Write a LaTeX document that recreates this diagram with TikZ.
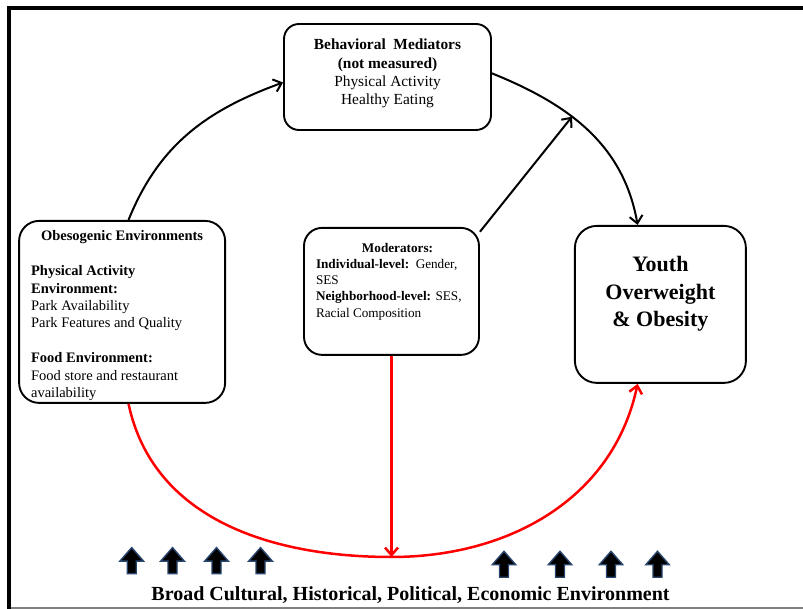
\documentclass[tikz,border=0pt]{standalone}
\usepackage{fontspec}
\setmainfont{Liberation Serif}
\usetikzlibrary{arrows.meta,positioning}
\definecolor{arrowblue}{RGB}{40,70,110}

\begin{document}
\begin{tikzpicture}[
  x=1pt, y=1pt,
  envbox/.style={rectangle, rounded corners=18pt, draw, line width=1.9pt, inner sep=0pt, fill=white},
  arrow/.style={-{Straight Barb[length=7.5pt,width=13pt]}, line width=2pt},
  redarrow/.style={-{Straight Barb[length=7.5pt,width=13pt]}, line width=2.5pt, red},
  uparrow/.pic={\filldraw[fill=black, draw=arrowblue, line width=1.4pt] (-4.5,0) -- (4.5,0) -- (4.5,12.5) -- (11.8,12.5) -- (0,26) -- (-11.8,12.5) -- (-4.5,12.5) -- cycle;}
]
  \path[use as bounding box, fill=white] (0,0) rectangle (803,609);
  % frame
  \draw[line width=4.2pt] (9.3,0) -- (9.3,601.2) -- (803,601.2);
  \draw[gray, line width=1.5pt] (11,0.8) -- (803,0.8);

  \node[envbox, rounded corners=15pt] (beh) at (387.5,532) {\begin{minipage}[t][106pt][t]{207pt}\centering\fontsize{15.4}{18.3}\selectfont
    \rule{0pt}{26pt}\textbf{Behavioral\ \ Mediators}\\
    \textbf{(not measured)}\\
    Physical Activity\\
    Healthy Eating
  \end{minipage}};
  \node[envbox, rounded corners=20pt, below left=89pt and 57pt of beh] (obes) {\begin{minipage}[t][182pt][t]{206pt}\fontsize{14.5}{17.4}\selectfont
    {\centering\rule{0pt}{20pt}\textbf{Obesogenic Environments}\par}
    \vspace{17.4pt}
    {\raggedright\leftskip=12pt
    \textbf{Physical Activity}\\
    \textbf{Environment:}\\
    Park Availability\\
    Park Features and Quality\\[17.4pt]
    \textbf{Food Environment:}\\
    Food store and restaurant\\
    availability\par}
  \end{minipage}};
  \node[envbox, below=96pt of beh, xshift=4pt] (mod) {\begin{minipage}[t][127pt][t]{175pt}\fontsize{13.2}{16.2}\selectfont
    {\centering\hspace*{12pt}\rule{0pt}{24.5pt}\textbf{Moderators:}\par}
    {\raggedright\leftskip=12pt
    \textbf{Individual-level:}\ \ Gender,\\
    SES\\
    \textbf{Neighborhood-level:} SES,\\
    Racial Composition\par}
  \end{minipage}};
  \node[envbox, rounded corners=22pt, right=94pt of mod, yshift=-13pt] (youth) {\begin{minipage}[t][157pt][t]{171pt}\centering\fontsize{22}{27.5}\selectfont\bfseries
    \rule{0pt}{46pt}Youth\\
    Overweight\\
    \&~Obesity
  \end{minipage}};
  \node[anchor=base] (broad) at (410.5,8) {\fontsize{20}{24}\selectfont\bfseries Broad Cultural, Historical, Political, Economic Environment};

  \coordinate (bot) at (mod.south |- 0,52);
  \draw[arrow] (obes.86) to[out=68, in=200] (beh.183);
  \draw[arrow] (beh.2) to[out=-22, in=100] coordinate[pos=0.4] (medhit) (youth.106);
  \draw[arrow] (mod.34) -- (medhit);
  \draw[redarrow] (obes.-86) to[out=-78, in=180] (bot) to[out=0, in=-102] (youth.-106);
  \draw[redarrow] (mod.south) -- (bot);

  \foreach \ax in {131.7,172.5,216.5,260.5}
    \pic at (\ax,35.4) {uparrow};
  \foreach \ax in {504,560,611,657.5}
    \pic at (\ax,31.7) {uparrow};
\end{tikzpicture}
\end{document}
